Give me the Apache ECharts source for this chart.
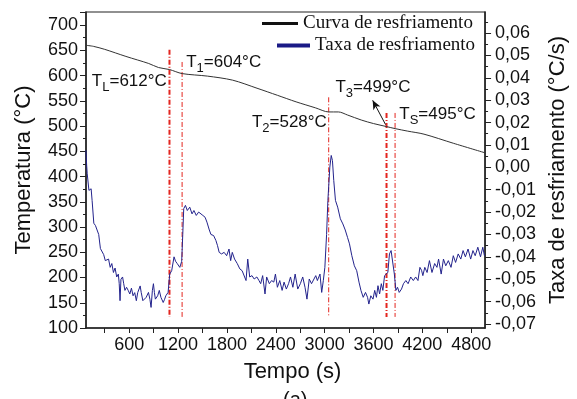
<!DOCTYPE html>
<html>
<head>
<meta charset="utf-8">
<script src="https://cdn.jsdelivr.net/npm/echarts@6/dist/echarts.min.js"></script>
<style>
  html, body { margin: 0; padding: 0; background: #fff; }
  #chart { width: 577px; height: 399px; }
</style>
</head>
<body>
<div id="chart"></div>
<script>
// curva de resfriamento (temperatura x tempo)
const curveTime = [70, 160, 300, 560, 840, 960, 1095, 1250, 1560, 1870, 2170, 2420, 2650, 2890, 3050, 3170, 3280, 3450, 3600, 3760, 3865, 4020, 4220, 4580, 4970];
const curveTemp = [660, 658, 652, 638, 624, 616, 612, 604, 599, 591, 575, 561, 548, 536, 528, 528, 522, 512, 505, 499, 495, 490, 484, 466, 447];

// taxa de resfriamento (°C/s x tempo)
const rateTime = [69, 78, 85, 106, 133, 145, 166, 186, 206, 226, 247, 266, 287, 307, 347, 367, 387, 407, 427, 447, 467, 478, 488, 499, 519, 533, 548, 568, 588, 608, 628, 648, 668, 688, 705, 721, 735, 748, 768, 789, 809, 837, 855, 869, 885, 898, 910, 922, 950, 970, 990, 1018, 1035, 1050, 1078, 1098, 1122, 1151, 1170, 1190, 1222, 1245, 1258, 1270, 1291, 1314, 1344, 1372, 1395, 1424, 1453, 1475, 1505, 1532, 1555, 1584, 1604, 1637, 1665, 1685, 1705, 1734, 1766, 1797, 1826, 1846, 1866, 1894, 1927, 1959, 1987, 2007, 2035, 2056, 2080, 2108, 2135, 2168, 2194, 2215, 2239, 2268, 2288, 2321, 2349, 2376, 2396, 2420, 2449, 2478, 2502, 2530, 2557, 2581, 2610, 2638, 2670, 2702, 2731, 2759, 2783, 2811, 2839, 2863, 2891, 2911, 2943, 2964, 2984, 3003, 3024, 3040, 3064, 3081, 3096, 3112, 3133, 3160, 3193, 3224, 3253, 3281, 3305, 3334, 3365, 3394, 3422, 3446, 3474, 3502, 3527, 3543, 3567, 3594, 3615, 3636, 3655, 3675, 3696, 3715, 3736, 3756, 3776, 3796, 3816, 3836, 3856, 3875, 3895, 3916, 3944, 3968, 3997, 4025, 4057, 4089, 4118, 4146, 4170, 4190, 4206, 4230, 4258, 4287, 4318, 4351, 4379, 4399, 4431, 4459, 4487, 4519, 4552, 4580, 4608, 4640, 4672, 4700, 4728, 4761, 4793, 4821, 4849, 4881, 4914, 4942, 4962];
const rateValue = [0.0076, 0.001, -0.0029, -0.0103, -0.0096, -0.0148, -0.025, -0.026, -0.028, -0.030, -0.0363, -0.037, -0.039, -0.0417, -0.041, -0.0447, -0.043, -0.047, -0.045, -0.049, -0.0477, -0.052, -0.0596, -0.050, -0.049, -0.052, -0.055, -0.0536, -0.055, -0.0566, -0.054, -0.0574, -0.056, -0.0596, -0.056, -0.0566, -0.053, -0.0559, -0.0596, -0.0604, -0.0581, -0.0559, -0.059, -0.0626, -0.055, -0.052, -0.056, -0.0589, -0.0574, -0.055, -0.0581, -0.0604, -0.059, -0.0574, -0.0559, -0.0477, -0.0462, -0.040, -0.042, -0.043, -0.0447, -0.042, -0.030, -0.0185, -0.017, -0.0193, -0.0178, -0.0208, -0.0193, -0.0215, -0.020, -0.0193, -0.0215, -0.0223, -0.0245, -0.028, -0.030, -0.0305, -0.0327, -0.035, -0.038, -0.0387, -0.038, -0.0395, -0.0365, -0.0417, -0.038, -0.041, -0.043, -0.0454, -0.0462, -0.047, -0.0506, -0.041, -0.049, -0.0484, -0.0499, -0.049, -0.0506, -0.052, -0.0484, -0.0566, -0.049, -0.052, -0.0506, -0.0513, -0.0477, -0.0536, -0.0506, -0.055, -0.0513, -0.0544, -0.052, -0.049, -0.0536, -0.0477, -0.0544, -0.052, -0.049, -0.0536, -0.0589, -0.0499, -0.052, -0.0513, -0.0484, -0.0506, -0.0477, -0.0559, -0.0506, -0.0447, -0.030, -0.0148, 0.0001, 0.0053, 0.003, -0.0059, -0.0148, -0.0178, -0.023, -0.0253, -0.028, -0.0313, -0.0342, -0.0395, -0.044, -0.0462, -0.0513, -0.055, -0.0581, -0.0559, -0.0581, -0.0611, -0.0574, -0.0589, -0.055, -0.0581, -0.0529, -0.0566, -0.052, -0.055, -0.0484, -0.049, -0.047, -0.0387, -0.0372, -0.0365, -0.0477, -0.055, -0.0536, -0.0559, -0.0544, -0.052, -0.0506, -0.052, -0.049, -0.0506, -0.049, -0.0506, -0.0447, -0.046, -0.0484, -0.0447, -0.047, -0.0417, -0.047, -0.043, -0.0447, -0.041, -0.0477, -0.041, -0.044, -0.0417, -0.0447, -0.0395, -0.0425, -0.0387, -0.041, -0.0372, -0.040, -0.0365, -0.041, -0.0372, -0.0395, -0.0357, -0.040, -0.0357, -0.0395];

// linhas verticais tracejadas (T_L, T1, T2, T3, T_S)
const vLineTime = [1095, 1250, 3050, 3760, 3865];
const vLineTop = [651, 627, 557, 526, 526];
const vLineBottom = 122;
const vLineWidth = [2, 1, 1, 2, 1];

// textos das temperaturas características
const markNames = ['L', '1', '2', '3', 'S'];
const markTemps = ['612', '604', '528', '499', '495'];
const markTime = [142, 1300, 2107, 3133, 3917];
const markTemp = [589, 627, 508, 577, 524];

// ticks
const xLabels = [600, 1200, 1800, 2400, 3000, 3600, 4200, 4800];
const xTicks = [300, 600, 900, 1200, 1500, 1800, 2100, 2400, 2700, 3000, 3300, 3600, 3900, 4200, 4500, 4800];
const rightLabels = [-0.07, -0.06, -0.05, -0.04, -0.03, -0.02, -0.01, 0, 0.01, 0.02, 0.03, 0.04, 0.05, 0.06];
const rightMinor = [-0.065, -0.055, -0.045, -0.035, -0.025, -0.015, -0.005, 0.005, 0.015, 0.025, 0.035, 0.045, 0.055, 0.065];

const chart = echarts.init(document.getElementById('chart'));

let curveData = curveTime.map((t, i) => [t, curveTemp[i]]);
let rateData = rateTime.map((t, i) => [t, rateValue[i]]);

let markData = markNames.map((n, i) => ({
  coord: [markTime[i], markTemp[i]],
  label: { formatter: '{a|T}{b|' + n + '}{a|=' + markTemps[i] + '°C}' }
}));

let vLines = vLineTime.map((t, i) => ({
  name: 'v' + i,
  type: 'line',
  yAxisIndex: 0,
  data: [[t, vLineTop[i]], [t, vLineBottom]],
  symbol: 'none',
  silent: true,
  z: 1,
  lineStyle: { color: '#e3251f', width: vLineWidth[i], type: [5, 2, 1, 2] }
}));

const tickFont = { fontFamily: 'Liberation Sans, Arial', fontSize: 18, color: '#111' };
const nameFont = { fontFamily: 'Liberation Sans, Arial', fontSize: 22, color: '#111' };

chart.setOption({
  animation: false,
  backgroundColor: '#fff',
  grid: { left: 86, right: 85, top: 12, bottom: 71, show: true, borderColor: '#222', borderWidth: 1.2 },
  legend: [{
    data: ['Curva de resfriamento'],
    left: 262, top: 14, padding: 0,
    icon: 'rect', itemWidth: 36, itemHeight: 3,
    textStyle: { fontFamily: 'Liberation Serif, Times New Roman', fontSize: 19, color: '#111' }
  }, {
    data: ['Taxa de resfriamento'],
    left: 277, top: 36, padding: 0,
    icon: 'rect', itemWidth: 33, itemHeight: 4,
    textStyle: { fontFamily: 'Liberation Serif, Times New Roman', fontSize: 19, color: '#111' }
  }],
  xAxis: {
    type: 'value',
    min: 70,
    max: 4970,
    name: 'Tempo (s)',
    nameLocation: 'middle',
    nameGap: 33,
    nameTextStyle: Object.assign({ padding: [0, 0, 0, 14] }, nameFont),
    axisLine: { onZero: false, lineStyle: { color: '#222', width: 1.5 } },
    axisTick: { customValues: xTicks, length: 5, lineStyle: { color: '#222' } },
    axisLabel: Object.assign({ customValues: xLabels, margin: 8, formatter: v => String(v) }, tickFont),
    splitLine: { show: false }
  },
  yAxis: [{
    type: 'value',
    min: 100,
    max: 726,
    interval: 50,
    name: 'Temperatura (°C)',
    nameLocation: 'middle',
    nameGap: 51,
    nameTextStyle: nameFont,
    axisLine: { show: true, onZero: false, lineStyle: { color: '#222', width: 1.5 } },
    axisTick: { length: 6, lineStyle: { color: '#222' } },
    minorTick: { show: true, splitNumber: 2, length: 3, lineStyle: { color: '#222' } },
    axisLabel: Object.assign({ margin: 8, showMaxLabel: false }, tickFont),
    splitLine: { show: false }
  }, {
    type: 'value',
    position: 'right',
    min: -0.0718,
    max: 0.0694,
    name: 'Taxa de resfriamento (°C/s)',
    nameLocation: 'middle',
    nameRotate: 90,
    nameGap: 61,
    nameTextStyle: nameFont,
    axisLine: { show: true, onZero: false, lineStyle: { color: '#222', width: 1.5 } },
    axisTick: { customValues: rightLabels, length: 6, lineStyle: { color: '#222' } },
    axisLabel: Object.assign({
      customValues: rightLabels,
      margin: 10,
      formatter: v => v.toFixed(2).replace('.', ',')
    }, tickFont),
    splitLine: { show: false }
  }, {
    // só os ticks menores do eixo direito
    type: 'value',
    position: 'right',
    min: -0.0718,
    max: 0.0694,
    axisLine: { show: false },
    axisTick: { customValues: rightMinor, length: 3, lineStyle: { color: '#222' } },
    axisLabel: { show: false },
    splitLine: { show: false }
  }],
  series: [
    ...vLines,
    {
      name: 'Curva de resfriamento',
      type: 'line',
      yAxisIndex: 0,
      data: curveData,
      smooth: 0.3,
      showSymbol: false,
      color: '#111',
      lineStyle: { color: '#333', width: 1 },
      z: 3,
      markPoint: {
        symbol: 'circle',
        symbolSize: 0,
        silent: true,
        label: {
          show: true,
          position: 'right',
          distance: 0,
          color: '#111',
          rich: {
            a: { fontFamily: 'Liberation Sans, Arial', fontSize: 17, color: '#111' },
            b: { fontFamily: 'Liberation Sans, Arial', fontSize: 13, color: '#111', padding: [12, 0, 0, 0] }
          }
        },
        data: markData
      },
      markLine: {
        silent: true,
        symbol: ['none', 'arrow'],
        symbolSize: [6, 9],
        label: { show: false },
        lineStyle: { color: '#111', width: 1, type: 'solid' },
        data: [[{ coord: [3748, 503] }, { coord: [3590, 551] }]]
      }
    },
    {
      name: 'Taxa de resfriamento',
      type: 'line',
      yAxisIndex: 1,
      data: rateData,
      showSymbol: false,
      color: '#1a1a86',
      lineStyle: { color: '#23238c', width: 1 },
      z: 2
    }
  ],
  graphic: [{
    type: 'text',
    left: 283,
    top: 390,
    style: { text: '(a)', fontFamily: 'Liberation Sans, Arial', fontSize: 20, fill: '#111' }
  }]
});
</script>
</body>
</html>
